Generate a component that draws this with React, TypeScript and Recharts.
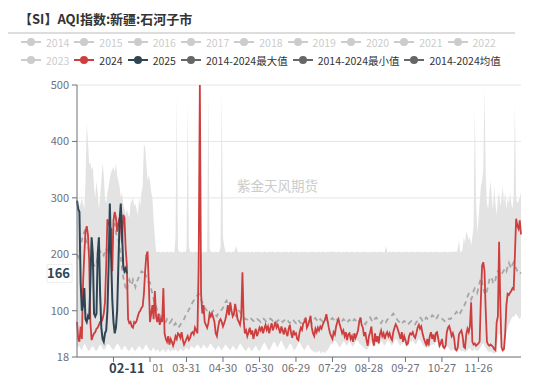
import { ComposedChart, Area, Line, XAxis, YAxis, CartesianGrid, ReferenceLine } from "recharts"

// categories: every day of a (leap) year as MM-DD
const monthLengths = [31, 29, 31, 30, 31, 30, 31, 31, 30, 31, 30, 31]
const dates: string[] = []
monthLengths.forEach((n, m) => {
  for (let d = 1; d <= n; d++) {
    dates.push(`${String(m + 1).padStart(2, "0")}-${String(d).padStart(2, "0")}`)
  }
})

const aqi2024 = [
  80, 50, 45, 72, 50, 150, 200, 240, 250, 235,
  190, 80, 48, 55, 60, 62, 68, 70, 75, 80,
  80, 85, 95, 115, 180, 262, 255, 248, 245, 170,
  260, 275, 265, 240, 255, 265, 250, 220, 270, 265,
  210, 180, 85, 78, 80, 72, 70, 80, 78, 82,
  90, 97, 100, 105, 108, 130, 170, 198, 205, 150,
  80, 95, 110, 85, 135, 90, 80, 95, 75, 85,
  80, 140, 60, 50, 45, 55, 40, 50, 45, 38,
  45, 55, 50, 60, 58, 52, 62, 48, 40, 45,
  50, 55, 48, 52, 60, 62, 58, 70, 65, 60,
  180, 500, 130, 95, 110, 80, 75, 70, 78, 95,
  90, 95, 88, 80, 60, 55, 70, 82, 85, 80,
  72, 78, 85, 95, 110, 92, 115, 100, 90, 95,
  112, 100, 85, 80, 75, 90, 168, 85, 60, 65,
  55, 62, 70, 58, 65, 50, 60, 68, 55, 62,
  70, 65, 72, 60, 68, 75, 66, 72, 60, 70,
  78, 65, 72, 80, 70, 75, 68, 60, 72, 65,
  58, 70, 62, 55, 68, 75, 60, 52, 65, 58,
  60, 50, 48, 62, 70, 66, 78, 80, 88, 70,
  75, 82, 91, 70, 60, 55, 68, 62, 70, 65,
  72, 68, 75, 80, 85, 94, 82, 70, 60, 55,
  50, 62, 58, 72, 80, 85, 75, 68, 60, 65,
  55, 62, 48, 58, 60, 50, 55, 45, 60, 52,
  58, 65, 80, 88, 75, 70, 55, 62, 48, 38,
  55, 62, 72, 50, 38, 60, 45, 55, 42, 58,
  65, 55, 60, 50, 58, 62, 55, 60, 52, 48,
  62, 70, 76, 72, 65, 58, 50, 62, 45, 55,
  48, 40, 42, 55, 60, 58, 62, 55, 52, 60,
  70, 75, 68, 72, 60, 52, 45, 40, 50, 38,
  55, 62, 50, 58, 45, 60, 62, 50, 38, 42,
  50, 36, 34, 38, 62, 70, 73, 65, 55, 60,
  52, 32, 30, 35, 58, 62, 65, 55, 36, 34,
  58, 68, 62, 72, 115, 45, 40, 42, 38, 40,
  42, 45, 120, 180, 186, 170, 100, 45, 40, 38,
  40, 38, 36, 32, 30, 80, 90, 222, 110, 35,
  30, 32, 60, 110, 130, 128, 132, 135, 140, 138,
  200, 263, 250, 245, 260, 235,
]

const aqi2025 = [
  295, 280, 275, 150, 100, 110, 140, 85, 80, 90,
  85, 150, 230, 200, 95, 90, 95, 200, 230, 130,
  70, 50, 45, 60, 65, 100, 180, 290, 200, 120,
  80, 60, 70, 100, 180, 260, 290, 240, 180, 170,
  175, 166,
]

const maxAqi = [
  300, 295, 285, 290, 300, 290, 280, 330, 433, 400,
  360, 362, 350, 355, 320, 300, 330, 310, 280, 300,
  330, 362, 340, 300, 290, 310, 320, 335, 345, 350,
  355, 345, 362, 340, 330, 320, 300, 310, 290, 280,
  270, 280, 270, 265, 290, 295, 300, 285, 290, 280,
  270, 300, 285, 310, 320, 394, 390, 360, 330, 340,
  330, 310, 300, 260, 230, 205, 204, 204, 205, 203,
  204, 205, 203, 204, 205, 204, 203, 205, 204, 203,
  204, 230, 480, 210, 204, 205, 203, 204, 205, 204,
  210, 470, 215, 204, 205, 203, 204, 205, 204, 204,
  205, 500, 204, 203, 205, 204, 204, 205, 490, 210,
  204, 205, 203, 204, 205, 204, 203, 205, 212, 490,
  230, 215, 205, 204, 203, 205, 204, 203, 205, 204,
  208, 215, 205, 204, 203, 205, 204, 204, 205, 203,
  204, 205, 203, 204, 205, 204, 203, 205, 204, 204,
  205, 204, 203, 204, 205, 204, 204, 203, 205, 204,
  204, 205, 204, 203, 204, 205, 204, 204, 203, 205,
  204, 204, 205, 204, 203, 204, 205, 204, 204, 203,
  205, 204, 204, 203, 205, 204, 204, 205, 203, 204,
  204, 203, 205, 204, 204, 205, 203, 204, 204, 205,
  203, 204, 205, 204, 204, 203, 205, 204, 204, 205,
  204, 205, 204, 203, 204, 205, 204, 204, 203, 205,
  204, 204, 205, 204, 203, 204, 205, 204, 204, 203,
  205, 204, 204, 203, 205, 204, 204, 205, 203, 204,
  204, 203, 205, 204, 204, 205, 203, 204, 204, 205,
  204, 205, 203, 204, 215, 204, 203, 205, 204, 204,
  205, 204, 203, 204, 205, 204, 204, 203, 205, 204,
  204, 205, 204, 203, 204, 205, 204, 204, 203, 205,
  204, 204, 205, 204, 203, 204, 205, 204, 204, 203,
  205, 204, 204, 203, 205, 204, 204, 205, 203, 204,
  203, 204, 205, 204, 204, 203, 205, 204, 204, 205,
  204, 205, 204, 210, 225, 205, 204, 210, 230, 220,
  240, 235, 225, 230, 215, 230, 250, 460, 300, 240,
  260, 290, 320, 330, 350, 495, 340, 290, 280, 310,
  330, 300, 280, 320, 290, 270, 300, 310, 285, 300,
  320, 290, 310, 280, 300, 290, 310, 290, 280, 305,
  465, 300, 290, 295, 300, 310,
]

const minAqi = [
  40, 35, 38, 32, 30, 36, 42, 38, 35, 30,
  28, 32, 35, 38, 34, 30, 28, 32, 36, 40,
  38, 34, 30, 32, 36, 40, 42, 38, 35, 32,
  30, 34, 38, 42, 40, 36, 32, 30, 34, 38,
  36, 32, 30, 28, 32, 36, 34, 30, 28, 32,
  35, 38, 36, 32, 30, 34, 38, 40, 36, 32,
  30, 28, 32, 35, 30, 28, 32, 30, 26, 28,
  30, 32, 28, 26, 30, 33, 29, 27, 31, 30,
  28, 32, 30, 27, 29, 33, 31, 28, 30, 32,
  35, 32, 30, 34, 38, 36, 33, 35, 38, 40,
  38, 35, 32, 36, 40, 38, 35, 33, 36, 40,
  42, 38, 35, 33, 30, 34, 38, 36, 32, 30,
  33, 36, 40, 38, 35, 32, 30, 34, 38, 36,
  32, 30, 34, 38, 42, 40, 36, 33, 30, 28,
  32, 36, 34, 30, 28, 32, 35, 38, 34, 30,
  28, 32, 36, 40, 44, 40, 36, 32, 30, 34,
  38, 42, 46, 42, 38, 35, 40, 44, 48, 42,
  38, 34, 30, 34, 38, 42, 40, 36, 32, 30,
  34, 38, 42, 45, 40, 36, 32, 30, 34, 38,
  40, 36, 32, 30, 28, 26, 28, 25, 27, 30,
  26, 24, 28, 26, 25, 28, 30, 34, 38, 42,
  40, 44, 48, 45, 42, 38, 35, 38, 42, 46,
  44, 40, 38, 42, 46, 42, 38, 36, 40, 44,
  48, 46, 42, 40, 38, 36, 34, 32, 30, 32,
  36, 40, 44, 42, 35, 38, 40, 45, 38, 42,
  46, 44, 40, 38, 42, 46, 48, 44, 40, 38,
  42, 46, 50, 48, 44, 40, 38, 42, 40, 44,
  40, 36, 38, 42, 46, 44, 48, 44, 40, 42,
  46, 50, 48, 44, 40, 38, 36, 34, 38, 32,
  36, 40, 38, 42, 38, 44, 46, 40, 34, 36,
  38, 32, 30, 34, 38, 36, 32, 30, 28, 32,
  30, 28, 26, 28, 32, 30, 28, 30, 28, 26,
  28, 30, 32, 34, 30, 28, 30, 32, 30, 28,
  30, 32, 36, 40, 42, 38, 34, 30, 28, 26,
  28, 26, 25, 24, 25, 40, 50, 60, 55, 28,
  26, 28, 45, 60, 70, 75, 80, 85, 90, 88,
  92, 95, 90, 88, 85, 90,
]

const avgAqi = [
  200, 195, 205, 215, 225, 235, 240, 228, 220, 215,
  205, 195, 188, 180, 182, 178, 185, 195, 200, 205,
  200, 202, 198, 205, 210, 200, 215, 220, 225, 235,
  245, 255, 240, 230, 225, 215, 195, 175, 160, 150,
  140, 135, 150, 155, 148, 145, 155, 150, 142, 150,
  155, 160, 165, 170, 168, 172, 165, 160, 155, 150,
  150, 138, 130, 120, 112, 108, 100, 95, 92, 90,
  88, 85, 82, 80, 85, 82, 78, 80, 84, 78,
  75, 78, 73, 70, 72, 75, 80, 82, 85, 90,
  95, 98, 102, 106, 110, 115, 118, 122, 125, 127,
  130, 128, 120, 115, 110, 106, 102, 100, 98, 96,
  95, 98, 100, 95, 92, 90, 95, 98, 100, 102,
  105, 110, 115, 118, 112, 108, 105, 100, 98, 95,
  92, 90, 95, 100, 98, 95, 90, 88, 86, 85,
  84, 82, 85, 86, 84, 82, 80, 83, 85, 84,
  82, 80, 84, 86, 85, 82, 80, 83, 85, 86,
  84, 82, 85, 83, 80, 82, 84, 86, 83, 80,
  82, 84, 86, 84, 80, 78, 82, 85, 83, 80,
  78, 82, 84, 80, 78, 82, 85, 83, 80, 84,
  86, 84, 80, 78, 82, 85, 87, 84, 80, 82,
  85, 83, 80, 82, 86, 84, 81, 79, 82, 85,
  87, 84, 80, 82, 85, 83, 80, 78, 82, 85,
  83, 80, 78, 82, 84, 81, 79, 82, 85, 83,
  80, 78, 82, 85, 83, 80, 78, 76, 80, 82,
  85, 88, 84, 80, 82, 86, 88, 85, 82, 80,
  78, 82, 85, 83, 80, 84, 86, 88, 90, 92,
  95, 92, 88, 85, 82, 80, 78, 76, 80, 82,
  80, 78, 75, 78, 80, 82, 80, 78, 76, 80,
  82, 85, 88, 86, 82, 80, 84, 88, 86, 84,
  86, 88, 92, 90, 86, 84, 88, 92, 90, 88,
  86, 84, 82, 80, 82, 84, 86, 85, 88, 90,
  92, 95, 98, 95, 92, 96, 100, 104, 108, 112,
  118, 125, 130, 128, 120, 125, 135, 140, 138, 132,
  140, 150, 158, 150, 140, 132, 128, 135, 145, 155,
  160, 158, 150, 148, 155, 165, 170, 168, 162, 165,
  168, 172, 175, 170, 178, 185, 180, 175, 182, 186,
  180, 175, 170, 168, 165, 168,
]

const yTicks = [18, 100, 200, 300, 400, 500]
const xTicks = ["01-31", "03-01", "03-31", "04-30", "05-30", "06-29", "07-29", "08-28", "09-27", "10-27", "11-26"]
const pointerDate = "02-11"
const pointerValue = 166

const legendItems = [
  { name: "2014", color: "#ccc", on: false },
  { name: "2015", color: "#ccc", on: false },
  { name: "2016", color: "#ccc", on: false },
  { name: "2017", color: "#ccc", on: false },
  { name: "2018", color: "#ccc", on: false },
  { name: "2019", color: "#ccc", on: false },
  { name: "2020", color: "#ccc", on: false },
  { name: "2021", color: "#ccc", on: false },
  { name: "2022", color: "#ccc", on: false },
  { name: "2023", color: "#ccc", on: false },
  { name: "2024", color: "#cf3e3e", on: true },
  { name: "2025", color: "#2f4554", on: true },
  { name: "2014-2024最大值", color: "#666", on: true },
  { name: "2014-2024最小值", color: "#666", on: true },
  { name: "2014-2024均值", color: "#666", on: true },
]

const data = dates.map((date, i) => ({
  date,
  y2024: aqi2024[i],
  y2025: aqi2025[i],
  max: maxAqi[i],
  min: minAqi[i],
  avg: avgAqi[i],
}))

const FONT = '"Noto Sans CJK SC", "Noto Sans", sans-serif'
const AXIS_COLOR = "#6e7079"

// the hovered date is drawn last so its box hides the labels under it
function DateTick(props: any) {
  const { x, y, payload } = props
  if (payload.value === pointerDate) {
    return (
      <g>
        <rect x={x - 29} y={y - 2} width={55} height={17} fill="#fff" />
        <text x={x} y={y + 9} textAnchor="middle" fontSize={13} fontWeight={700} fill="#2f4554" fontFamily={FONT}>
          {pointerDate}
        </text>
      </g>
    )
  }
  return (
    <g>
      <line x1={x} y1={y - 7} x2={x} y2={y - 2} stroke={AXIS_COLOR} />
      <text x={x} y={y} dy="0.71em" textAnchor="middle" fontSize={11} fill={AXIS_COLOR} fontFamily={FONT}>
        {payload.value}
      </text>
    </g>
  )
}

function ValueLabel(props: any) {
  const vb = props.viewBox
  if (!vb) return null
  return (
    <g>
      <rect x={vb.x - 30} y={vb.y - 9} width={25} height={18} fill="#fff" stroke="#eee" />
      <text x={vb.x - 7} y={vb.y + 5} textAnchor="end" fontSize={13} fontWeight={700} fill="#2f4554" fontFamily={FONT}>
        {pointerValue}
      </text>
    </g>
  )
}

function LegendRow({ items }: { items: typeof legendItems }) {
  return (
    <div style={{ display: "flex", height: 18, alignItems: "center" }}>
      {items.map((it) => (
        <div key={it.name} style={{ display: "flex", alignItems: "center", marginRight: 5 }}>
          <svg width={20} height={10}>
            <line x1={0} y1={5} x2={20} y2={5} stroke={it.color} strokeWidth={2} />
            <circle cx={10} cy={5} r={4} fill={it.color} />
          </svg>
          <span style={{ marginLeft: 5, fontSize: 10.5, color: it.on ? "#333" : "#ccc" }}>{it.name}</span>
        </div>
      ))}
    </div>
  )
}

export default function App() {
  return (
    <div style={{ position: "absolute", left: 0, top: 0, width: 550, height: 378, background: "#fff", fontFamily: FONT, overflow: "hidden" }}>
      <div style={{ position: "absolute", left: 19, top: 10, fontSize: 13, fontWeight: 700, color: "#333", lineHeight: "18px" }}>
        【SI】AQI指数:新疆:石河子市
      </div>
      <div style={{ position: "absolute", left: 8, top: 32, width: 507, height: 1.5, background: "#ddd" }} />
      <div style={{ position: "absolute", left: 21, top: 33 }}>
        <LegendRow items={legendItems.slice(0, 9)} />
        <LegendRow items={legendItems.slice(9)} />
      </div>
      <div style={{ position: "absolute", left: 237, top: 175, fontSize: 13.5, color: "#ccc" }}>紫金天风期货</div>
      <div style={{ position: "absolute", left: 0, top: 0 }}>
        <ComposedChart width={550} height={378} data={data} margin={{ top: 85, right: 29, bottom: 0, left: 0 }}>
          <CartesianGrid vertical={false} stroke="#e6e6e6" />
          <Area type="linear" dataKey="max" stroke="none" fill="#e3e3e3" fillOpacity={1} isAnimationActive={false} dot={false} activeDot={false} />
          <Area type="linear" dataKey="min" stroke="none" fill="#fff" fillOpacity={1} isAnimationActive={false} dot={false} activeDot={false} />
          <Line type="linear" dataKey="avg" stroke="#a6a6a6" strokeWidth={1.8} strokeDasharray="5 4" dot={false} isAnimationActive={false} />
          <Line type="linear" dataKey="y2024" stroke="#cf3e3e" strokeWidth={1.8} dot={false} isAnimationActive={false} />
          <Line type="linear" dataKey="y2025" stroke="#2f4554" strokeWidth={2} dot={false} isAnimationActive={false} />
          <XAxis
            dataKey="date"
            scale="point"
            ticks={[...xTicks, pointerDate]}
            interval={0}
            height={21}
            tickSize={5}
            tickMargin={2}
            tickLine={false}
            stroke={AXIS_COLOR}
            tick={<DateTick />}
          />
          <YAxis
            domain={[18, 500]}
            ticks={yTicks}
            width={77}
            tickSize={5}
            tickMargin={3}
            stroke={AXIS_COLOR}
            tick={{ fill: AXIS_COLOR, fontSize: 11, fontFamily: FONT }}
            allowDataOverflow
          />
          <ReferenceLine y={pointerValue} stroke="none" label={<ValueLabel />} />
        </ComposedChart>
      </div>
    </div>
  )
}
